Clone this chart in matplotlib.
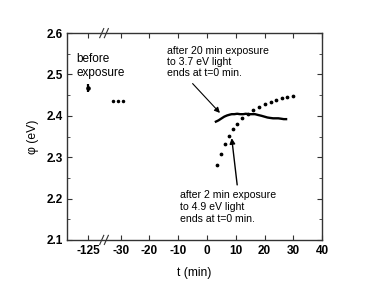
import matplotlib
matplotlib.use("Agg")
import matplotlib.pyplot as plt
import matplotlib.transforms as mtransforms
from matplotlib.ticker import MultipleLocator

plt.rcParams['font.family'] = ['Liberation Sans', 'DejaVu Sans']

# data (t in min, phi in eV)
before_t = -125
before_phi = 2.467
before_err = 0.009

early_t = [-32.7, -31.0, -29.3]
early_phi = [2.436, 2.436, 2.436]

# 3.7 eV exposure (dense, drawn as thick line)
uv37_t = [3.1, 4.0, 5.1, 6.0, 7.0, 8.0, 8.6, 9.5, 10.5, 11.5, 12.6, 13.5, 14.5,
          15.5, 16.7, 17.8, 19.0, 20.0, 21.0, 21.9, 23.0, 24.0, 24.8, 25.8, 26.7, 27.5]
uv37_phi = [2.386, 2.389, 2.394, 2.398, 2.401, 2.403, 2.404, 2.404, 2.405, 2.404, 2.404, 2.405, 2.404,
            2.404, 2.404, 2.402, 2.400, 2.398, 2.396, 2.395, 2.394, 2.394, 2.394, 2.393, 2.392, 2.392]

# 4.9 eV exposure (dotted points)
uv49_t = [3.4, 4.8, 6.3, 7.7, 9.1, 10.5, 12.3, 14.2, 16.1, 18.2, 20.2, 22.2, 24.0, 26.0, 27.9, 30.0]
uv49_phi = [2.281, 2.308, 2.332, 2.352, 2.368, 2.381, 2.394, 2.405, 2.414, 2.422,
            2.428, 2.434, 2.438, 2.442, 2.446, 2.449]

xtick_vals = [-125, -30, -20, -10, 0, 10, 20, 30, 40]
BREAK_SHIFT = 83.6  # compress the gap between -125 and -30


def xpos(t):
    return t + BREAK_SHIFT if t <= -100 else t


fig = plt.figure(figsize=(3.74, 2.88), dpi=100)
ax = fig.add_axes([0.179, 0.167, 0.682, 0.718])

ax.errorbar([xpos(before_t)], [before_phi], yerr=[before_err], fmt='o', ms=2.3,
            color='black', capsize=0, elinewidth=1.6)
ax.plot(early_t, early_phi, 'o', ms=1.5, color='black')
ax.plot(uv37_t, uv37_phi, '-', lw=1.7, color='black')
ax.plot(uv49_t, uv49_phi, 'o', ms=1.7, color='black', lw=0)

ax.set_xlim(-48.7, 40)
ax.set_ylim(2.1, 2.6)
ax.set_xticks([xpos(v) for v in xtick_vals])
ax.set_xticklabels([str(v) for v in xtick_vals])
ax.yaxis.set_major_locator(MultipleLocator(0.1))
ax.yaxis.set_minor_locator(MultipleLocator(0.05))
ax.tick_params(which='both', direction='in', top=True, right=True,
               labelsize=8.5, color='#333333')
ax.tick_params(axis='y', pad=3)
ax.tick_params(axis='x', pad=4)
ax.tick_params(which='major', length=3.5)
ax.tick_params(which='minor', length=2.5)
for lab in ax.get_xticklabels() + ax.get_yticklabels():
    lab.set_fontweight('bold')
for sp in ax.spines.values():
    sp.set_color('#333333')
    sp.set_linewidth(1.0)

ax.set_xlabel('t (min)', fontsize=8.7, labelpad=7)
ax.set_ylabel('\u03c6 (eV)', fontsize=8.7, labelpad=5)

# axis break marks
trans = mtransforms.blended_transform_factory(ax.transData, ax.transAxes)
bx = -35.8
for yb in (0.0, 1.0):
    for dx in (-0.8, 0.8):
        ax.plot([bx + dx - 0.7, bx + dx + 0.7], [yb - 0.022, yb + 0.022],
                transform=trans, color='#333333', lw=0.8, clip_on=False)

ax.text(-45.4, 2.521, 'before\nexposure', fontsize=8.5, ha='left', va='center',
        linespacing=1.2)

ax.text(-14, 2.53, 'after 20 min exposure\nto 3.7 eV light\nends at t=0 min.',
        fontsize=7.6, ha='left', va='center', linespacing=1.15)
ax.annotate('', xy=(4.5, 2.407), xytext=(-5.0, 2.478),
            arrowprops=dict(arrowstyle='-|>', color='black', lw=0.8,
                            shrinkA=0, shrinkB=0, mutation_scale=8))

ax.text(-9.5, 2.18, 'after 2 min exposure\nto 4.9 eV light\nends at t=0 min.',
        fontsize=7.6, ha='left', va='center', linespacing=1.25)
ax.annotate('', xy=(8.6, 2.346), xytext=(10.5, 2.233),
            arrowprops=dict(arrowstyle='-|>', color='black', lw=1.0,
                            shrinkA=0, shrinkB=0, mutation_scale=8))

fig.savefig('out.png', dpi=100)
